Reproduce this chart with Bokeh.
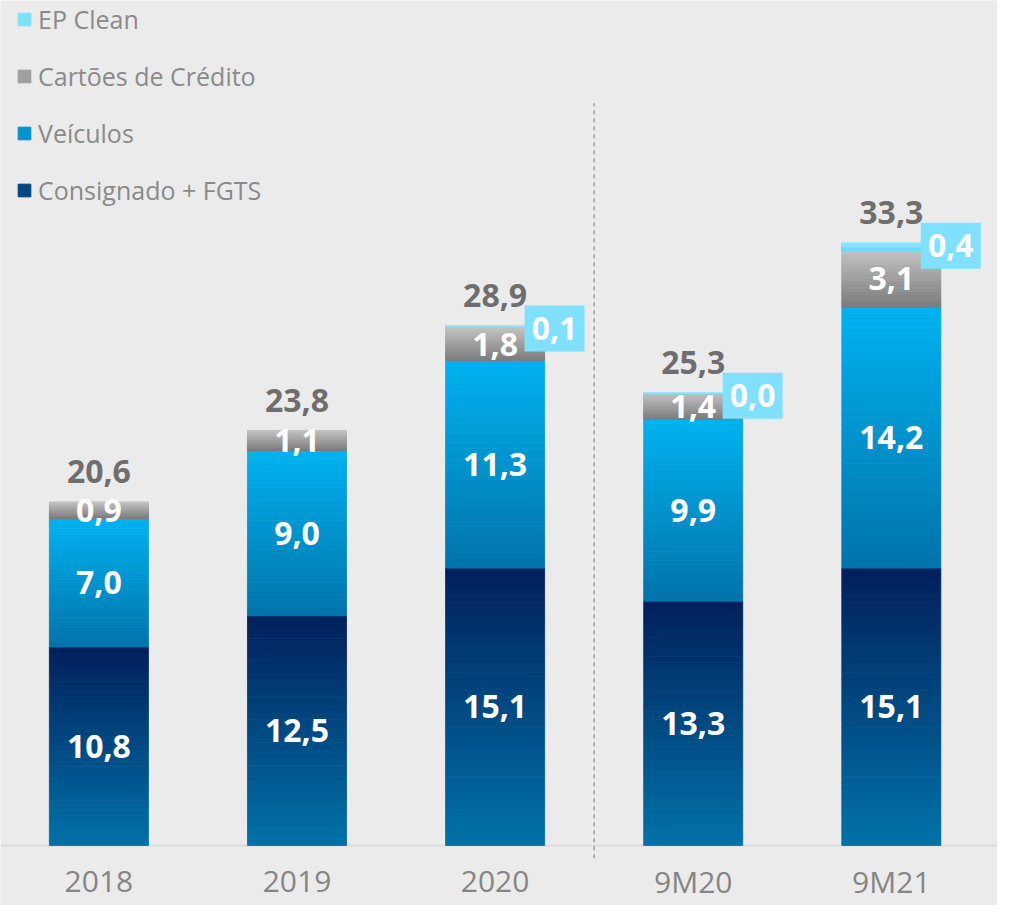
from bokeh.plotting import figure
from bokeh.models import ColumnDataSource, Range1d, Span, Legend, LegendItem
from bokeh.core.properties import value
from bokeh.embed import file_html
from bokeh.resources import INLINE

# ---------------- data ----------------
periods = ["2018", "2019", "2020", "9M20", "9M21"]
consignado = [10.8, 12.5, 15.1, 13.3, 15.1]
veiculos = [7.0, 9.0, 11.3, 9.9, 14.2]
cartoes = [0.9, 1.1, 1.8, 1.4, 3.1]
ep_clean = [0.0, 0.0, 0.1, 0.04, 0.4]
totals = [20.6, 23.8, 28.9, 25.3, 33.3]

series_names = ["Consignado + FGTS", "Veículos", "Cartões de Crédito", "EP Clean"]
series_values = [consignado, veiculos, cartoes, ep_clean]
# (top colour, bottom colour) of each segment's vertical gradient
series_grad = [("#00205c", "#0072a8"), ("#00b2f0", "#0073aa"),
               ("#c2c2c2", "#7a7a7a"), ("#94e7ff", "#66d9ff")]

FONT = "Open Sans"
BG = "#ebebeb"
N_STRIPS = 40
BAR_W = 0.5


def fmt(v):
    return f"{v:.1f}".replace(".", ",")


def hex2rgb(h):
    h = h.lstrip("#")
    return tuple(int(h[i:i + 2], 16) for i in (0, 2, 4))


def lerp(c_bottom, c_top, f):
    a, b = hex2rgb(c_bottom), hex2rgb(c_top)
    return "#%02x%02x%02x" % tuple(int(round(a[i] + (b[i] - a[i]) * f)) for i in range(3))


x_pos = list(range(len(periods)))

p = figure(width=997, height=905, output_backend="svg", toolbar_location=None,
           x_range=Range1d(-0.4967, 4.536), y_range=Range1d(-3.266, 46.0),
           min_border=0, background_fill_color=BG, border_fill_color=BG)
p.outline_line_color = None
p.grid.visible = False
p.axis.visible = False

# baseline
p.add_layout(Span(location=0, dimension="width", line_color="#dcdcdc",
                  line_width=2, level="underlay"))

# stacked gradient bars
base = [0.0] * len(periods)
renderers = []
for name, vals, (c_top, c_bot) in zip(series_names, series_values, series_grad):
    L, R, B, T, C = [], [], [], [], []
    for i, v in enumerate(vals):
        if v <= 0:
            continue
        for k in range(N_STRIPS):
            b = base[i] + v * k / N_STRIPS
            t = base[i] + v * (k + 1) / N_STRIPS
            L.append(x_pos[i] - BAR_W / 2)
            R.append(x_pos[i] + BAR_W / 2)
            B.append(b)
            T.append(t)
            C.append(lerp(c_bot, c_top, (k + 0.5) / N_STRIPS))
    src = ColumnDataSource(dict(left=L, right=R, bottom=B, top=T, color=C))
    r = p.quad(left="left", right="right", bottom="bottom", top="top", source=src,
               fill_color="color", line_color="color", line_width=0.8)
    renderers.append(r)
    base = [base[i] + vals[i] for i in range(len(vals))]

stack_top = base

# segment value labels (white)
seg_x, seg_y, seg_t = [], [], []
run = [0.0] * len(periods)
for vals in series_values[:3]:
    for i, v in enumerate(vals):
        seg_x.append(x_pos[i])
        seg_y.append(run[i] + v / 2)
        seg_t.append(fmt(v))
        run[i] += v
p.text(x=seg_x, y=seg_y, text=seg_t, text_color="white", text_font=value(FONT),
       text_font_style="bold", text_font_size="32px", text_align="center",
       text_baseline="middle")

# EP Clean callout boxes
ep_x = [x_pos[i] + 0.30 for i, v in enumerate(ep_clean) if v > 0]
ep_y = [stack_top[i] - 0.15 for i, v in enumerate(ep_clean) if v > 0]
ep_t = [fmt(v) for v in ep_clean if v > 0]
p.rect(x=ep_x, y=ep_y, width=60, height=46, width_units="screen", height_units="screen",
       fill_color="#80e0ff", line_color=None)
p.text(x=ep_x, y=ep_y, text=ep_t, text_color="white", text_font=value(FONT),
       text_font_style="bold", text_font_size="32px", text_align="center",
       text_baseline="middle")

# totals above the bars
p.text(x=x_pos, y=[t + 1.65 for t in stack_top], text=[fmt(t) for t in totals],
       text_color="#6e6e6e", text_font=value(FONT), text_font_style="bold",
       text_font_size="32px", text_align="center", text_baseline="middle")

# category labels
p.text(x=x_pos, y=[-1.95] * len(periods), text=periods, text_color="#858585",
       text_font=value(FONT), text_font_size="30px", text_align="center",
       text_baseline="middle")

# separator between annual and 9M figures
p.segment(x0=[2.5], y0=[-0.7], x1=[2.5], y1=[40.4], line_color="#8c8c8c",
          line_width=1.3, line_dash="4 4")

# legend (top to bottom: EP Clean, Cartões, Veículos, Consignado)
items = []
for name, r in zip(series_names[::-1], renderers[::-1]):
    items.append(LegendItem(label=name, renderers=[r], index=N_STRIPS // 2))
legend = Legend(items=items, location=(16, 698), orientation="vertical",
                label_text_font=FONT, label_text_font_size="25px",
                label_text_color="#8a8a8a", glyph_width=16, glyph_height=16,
                label_height=16, spacing=23, padding=0, margin=0,
                label_standoff=6, background_fill_alpha=0, border_line_color=None)
p.add_layout(legend)

open("out.html", "w").write(file_html(p, INLINE))
